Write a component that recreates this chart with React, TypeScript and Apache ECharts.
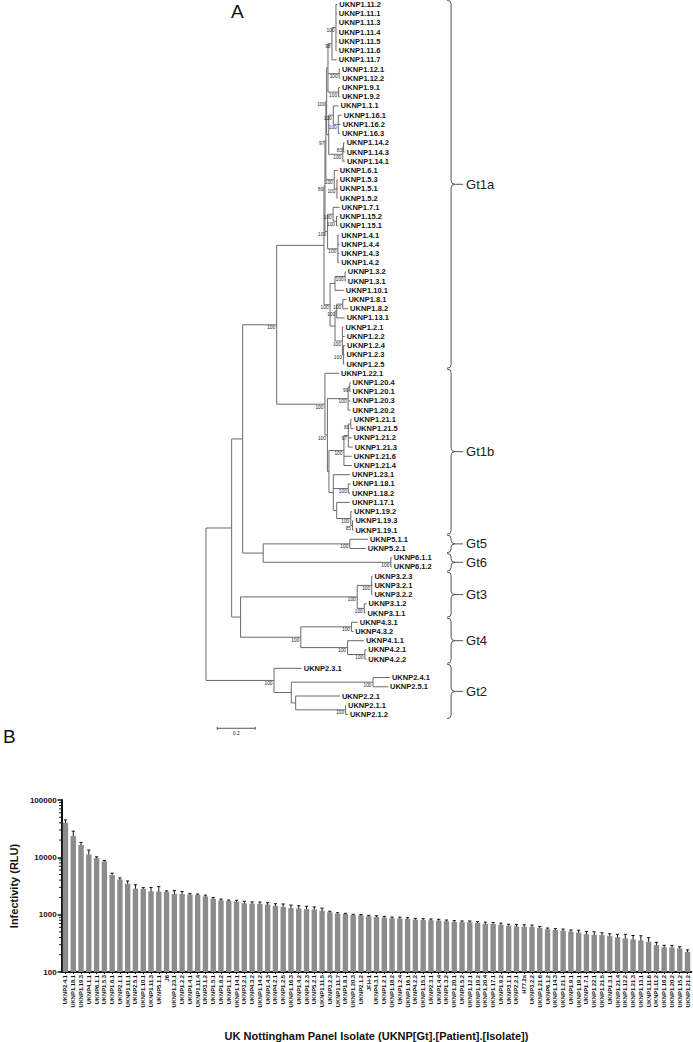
import React, { useEffect, useRef } from "react";
import * as echarts from "echarts";

const FONT = '"Liberation Sans", Arial, Helvetica, sans-serif';

// ---------------- Panel A: phylogenetic tree (Newick, branch lengths in substitutions/site) -------------
const G11a = "(UKNP1.11.2:0.007,UKNP1.11.1:0.004,UKNP1.11.3:0.004,UKNP1.11.4:0.004,UKNP1.11.5:0.004,UKNP1.11.6:0.004)100:0.021";
const G11 = `(${G11a},UKNP1.11.7:0.025)98:0.021`;
const G12 = "(UKNP1.12.1:0.004,UKNP1.12.2:0.005)100:0.059";
const G9 = "(UKNP1.9.1:0.007,UKNP1.9.2:0.007)100:0.056";
const U1a = `(${G11},${G12},${G9}):0.007`;
const G16 = "(UKNP1.16.1:0.019,UKNP1.16.2:0.013,UKNP1.16.3:0.009)100:0.026";
const G116 = `(UKNP1.1.1:0.028,${G16})100:0.024`;
const G14 = "((UKNP1.14.2:0.006,UKNP1.14.3:0.006)83:0.004,UKNP1.14.1:0.011)100:0.074";
const U1b = `(${G116},${G14}):0.011`;
const U1 = `(${U1a},${U1b})100:0.004`;
const U2 = "(UKNP1.6.1:0.019,(UKNP1.5.3:0.005,UKNP1.5.1:0.005,UKNP1.5.2:0.005)100:0.014)100:0.044";
const Upper = `(${U1},${U2})97:0.005`;
const Lower = "((UKNP1.7.1:0.034,(UKNP1.15.2:0.007,UKNP1.15.1:0.007)100:0.018)100:0.029,(UKNP1.4.1:0.007,UKNP1.4.4:0.007,UKNP1.4.3:0.007,UKNP1.4.2:0.007)100:0.054)100:0.014";
const Top = `(${Upper},${Lower})89:0.005`;
const B1 = "((UKNP1.3.2:0.004,UKNP1.3.1:0.004)100:0.053,UKNP1.10.1:0.046):0.026";
const B2 = "((UKNP1.8.1:0.019,UKNP1.8.2:0.028)100:0.032,UKNP1.13.1:0.042)100:0.009";
const G2x = "(UKNP1.2.1:0.006,UKNP1.2.2:0.012,(UKNP1.2.4:0.009,UKNP1.2.3:0.006,UKNP1.2.5:0.006)100:0.005)100:0.039";
const Bottom = `(${B1},(${B2},${G2x}):0.026)100:0.032`;
const Gt1aTree = `(${Top},${Bottom}):0.249`;

const G1_20 = "((UKNP1.20.4:0.004,UKNP1.20.1:0.004)99:0.009,UKNP1.20.3:0.013,UKNP1.20.2:0.013)100:0.109";
const G1_21 = "(((UKNP1.21.1:0.005,UKNP1.21.5:0.015)81:0.013,UKNP1.21.2:0.018,UKNP1.21.3:0.024)97:0.023,UKNP1.21.6:0.041,UKNP1.21.4:0.041)100:0.079";
const G1_rest = "(UKNP1.23.1:0.088,(UKNP1.18.1:0.012,UKNP1.18.2:0.009)100:0.079,(UKNP1.17.1:0.07,(UKNP1.19.2:0.007,(UKNP1.19.3:0.005,UKNP1.19.1:0.005)85:0.009)100:0.074):0.018):0.023";
const Gt1bTree = `(UKNP1.22.1:0.074,(${G1_20},(${G1_21},${G1_rest}):0.008)100:0.013)100:0.254`;

const Gt1Tree = `(${Gt1aTree},${Gt1bTree})100:0.179`;
const Gt56Tree = "((UKNP5.1.1:0.095,UKNP5.2.1:0.084)100:0.456,(UKNP6.1.1:0.005,UKNP6.1.2:0.005)100:0.672):0.108";
const A1Tree = `(${Gt1Tree},${Gt56Tree}):0.058`;
const Gt3Tree = "((UKNP3.2.3:0.004,UKNP3.2.1:0.004,UKNP3.2.2:0.004)100:0.076,(UKNP3.1.2:0.012,UKNP3.1.1:0.006)100:0.037)100:0.614";
const Gt4Tree = "((UKNP4.3.1:0.033,UKNP4.3.2:0.009)100:0.267,(UKNP4.1.1:0.086,(UKNP4.2.1:0.008,UKNP4.2.2:0.008)100:0.091)100:0.246)100:0.317";
const A2Tree = `(${Gt3Tree},${Gt4Tree}):0.047`;
const Gt2Tree = "(UKNP2.3.1:0.146,((UKNP2.4.1:0.089,UKNP2.5.1:0.079)100:0.43,(UKNP2.2.1:0.233,(UKNP2.1.1:0.002,UKNP2.1.2:0.012)100:0.263):0.023):0.091)100:0.358";
const treeNewick = `((${A1Tree},${A2Tree}):0.135,${Gt2Tree});`;

const cladeNames = ["Gt1a", "Gt1b", "Gt5", "Gt6", "Gt3", "Gt4", "Gt2"];
const cladeFirstLeaf = [0, 40, 58, 60, 62, 67, 72];
const cladeLastLeaf = [39, 57, 59, 61, 66, 71, 77];
const scaleBarLength = 0.2;

// ---------------- Panel B: infectivity bar chart -------------
const isolateNames = [
  "UKNP2.4.1", "UKNP1.18.1", "UKNP1.19.3", "UKNP4.1.1", "UKNP6.1.1", "UKNP1.5.3", "UKNP1.6.1", "UKNP2.1.1", "UKNP1.11.1",
  "UKNP2.5.1", "UKNP1.10.1", "UKNP1.11.3", "UKNP5.1.1", "J6", "UKNP1.23.1", "UKNP1.2.2", "UKNP1.4.1", "UKNP1.11.4",
  "UKNP3.1.2", "UKNP1.5.1", "UKNP1.8.2", "UKNP1.1.1", "UKNP1.14.1", "UKNP3.2.1", "UKNP4.3.2", "UKNP1.14.2", "UKNP1.4.3",
  "UKNP4.2.1", "UKNP1.2.5", "UKNP1.16.3", "UKNP1.4.2", "UKNP1.2.3", "UKNP5.2.1", "UKNP1.11.5", "UKNP3.2.3", "UKNP1.11.7",
  "UKNP1.8.1", "UKNP1.20.3", "UKNP2.1.2", "JFH-1", "UKNP4.3.1", "UKNP1.2.1", "UKNP1.18.2", "UKNP1.2.4", "UKNP1.16.1",
  "UKNP4.2.2", "UKNP1.15.1", "UKNP2.3.1", "UKNP1.4.4", "UKNP1.3.2", "UKNP1.20.1", "UKNP1.5.2", "UKNP1.12.1", "UKNP1.19.2",
  "UKNP1.20.4", "UKNP1.17.1", "UKNP1.9.2", "UKNP3.1.1", "UKNP2.2.1", "H77.2a", "UKNP3.2.2", "UKNP1.21.6", "UKNP6.1.2",
  "UKNP1.14.3", "UKNP1.21.1", "UKNP1.9.1", "UKNP1.19.1", "UKNP1.7.1", "UKNP1.22.1", "UKNP1.21.5", "UKNP1.3.1", "UKNP1.21.4",
  "UKNP1.12.2", "UKNP1.21.3", "UKNP1.13.1", "UKNP1.11.6", "UKNP1.11.2", "UKNP1.16.2", "UKNP1.20.2", "UKNP1.15.2", "UKNP1.21.2",
];
const infectivity = [
  40000, 23600, 16400, 11200, 9700, 8500, 4900, 4100, 3460,
  2850, 2820, 2560, 2530, 2500, 2300, 2290, 2240, 2200,
  2080, 1900, 1780, 1730, 1680, 1580, 1560, 1540, 1500,
  1420, 1370, 1300, 1280, 1250, 1230, 1170, 1100, 1040,
  1025, 985, 973, 935, 912, 889, 865, 855, 843,
  821, 810, 800, 789, 769, 748, 739, 735, 720,
  692, 684, 665, 640, 624, 615, 608, 585, 555,
  540, 526, 506, 486, 456, 444, 439, 422, 405,
  385, 370, 355, 337, 296, 270, 267, 256, 225,
];
const infectivityErr = [
  5000, 5000, 1800, 2200, 500, 340, 390, 280, 410,
  470, 140, 420, 560, 100, 350, 250, 90, 90,
  110, 100, 90, 70, 100, 130, 110, 120, 120,
  130, 165, 170, 150, 150, 135, 130, 45, 40,
  30, 30, 30, 37, 45, 45, 43, 50, 42,
  41, 40, 40, 40, 38, 37, 37, 40, 36,
  48, 48, 45, 40, 50, 50, 50, 35, 30,
  30, 35, 35, 49, 55, 58, 44, 42, 49,
  69, 63, 74, 61, 33, 22, 24, 20, 18,
];
const minorTickValues = [
  200, 300, 400, 500, 600, 700, 800, 900,
  2000, 3000, 4000, 5000, 6000, 7000, 8000, 9000,
  20000, 30000, 40000, 50000, 60000, 70000, 80000, 90000,
];

// ---------------- tree helpers -------------
type TNode = { name: string; len: number; support: string; children: TNode[]; x: number; y: number };

function parseNewick(s: string): TNode {
  let i = 0;
  const parseNode = (): TNode => {
    const node: TNode = { name: "", len: 0, support: "", children: [], x: 0, y: 0 };
    if (s[i] === "(") {
      i++;
      node.children.push(parseNode());
      while (s[i] === ",") {
        i++;
        node.children.push(parseNode());
      }
      i++;
    }
    let label = "";
    while (i < s.length && ":,);".indexOf(s[i]) < 0) label += s[i++];
    if (node.children.length) node.support = label;
    else node.name = label;
    if (s[i] === ":") {
      i++;
      let num = "";
      while (i < s.length && ",);".indexOf(s[i]) < 0) num += s[i++];
      node.len = parseFloat(num);
    }
    return node;
  };
  return parseNode();
}

function buildTree() {
  const root = parseNewick(treeNewick);
  let leafIdx = 0;
  const segments: number[][] = [];
  const leaves: { x: number; y: number; name: string }[] = [];
  const supports: { x: number; y: number; label: string }[] = [];
  const walk = (n: TNode, px: number, isRoot: boolean) => {
    n.x = isRoot ? 0 : px + n.len;
    if (!n.children.length) {
      n.y = leafIdx++;
      leaves.push({ x: n.x, y: n.y, name: n.name });
    } else {
      n.children.forEach((c) => walk(c, n.x, false));
      const f = n.children[0].y;
      const l = n.children[n.children.length - 1].y;
      n.y = (f + l) / 2;
      segments.push([n.x, f, n.x, l]);
      if (n.support) supports.push({ x: n.x, y: n.y, label: n.support });
    }
    if (!isRoot) segments.push([px, n.y, n.x, n.y]);
  };
  walk(root, 0, true);
  return { segments, leaves, supports };
}

const txt = (text: string, x: number, y: number, size: number, weight: string, align: string, vAlign: string, fill = "#111") => ({
  type: "text",
  x,
  y,
  style: {
    text,
    fill,
    fontSize: size,
    fontWeight: weight,
    fontFamily: FONT,
    align,
    verticalAlign: vAlign,
    textAlign: align,
    textVerticalAlign: vAlign,
  },
});

export default function App() {
  const ref = useRef<HTMLDivElement>(null);

  useEffect(() => {
    if (!ref.current) return;
    const chart = echarts.init(ref.current, undefined, { renderer: "svg" });
    const { segments, leaves, supports } = buildTree();
    const TREE_GRID = 0;
    const BAR_GRID = 1;
    const BRACE_X = 1.29;

    const option: any = {
      animation: false,
      textStyle: { fontFamily: FONT },
      grid: [
        { left: 206, top: 4.5, width: 285, height: 709.94 },
        { left: 59.4, top: 800, width: 632, height: 176 },
      ],
      xAxis: [
        { gridIndex: TREE_GRID, type: "value", min: 0, max: 1.5, show: false },
        {
          gridIndex: BAR_GRID,
          type: "category",
          data: isolateNames,
          boundaryGap: true,
          axisLine: { onZero: false, lineStyle: { color: "#111", width: 2 } },
          axisTick: { show: true, length: 2, alignWithLabel: true, lineStyle: { color: "#111", width: 1 } },
          axisLabel: { interval: 0, rotate: 90, fontSize: 5.8, fontWeight: "bold", color: "#111", margin: 3, fontFamily: FONT },
          name: "UK Nottingham Panel Isolate (UKNP[Gt].[Patient].[Isolate])",
          nameLocation: "middle",
          nameGap: 58,
          nameTextStyle: { fontSize: 11, fontWeight: "bold", color: "#111", fontFamily: FONT },
        },
      ],
      yAxis: [
        { gridIndex: TREE_GRID, type: "value", min: 0, max: 77, inverse: true, show: false },
        {
          gridIndex: BAR_GRID,
          type: "log",
          logBase: 10,
          min: 100,
          max: 100000,
          splitLine: { show: false },
          axisLine: { show: true, lineStyle: { color: "#111", width: 2 } },
          axisTick: { show: true, length: 4, lineStyle: { color: "#111", width: 1.5 } },
          axisLabel: {
            fontSize: 8,
            fontWeight: "bold",
            color: "#111",
            margin: 5,
            fontFamily: FONT,
            formatter: (v: number) => String(Math.round(v)),
          },
          name: "Infectivity (RLU)",
          nameLocation: "middle",
          nameRotate: 90,
          nameGap: 31,
          nameTextStyle: { fontSize: 11, fontWeight: "bold", color: "#111", fontFamily: FONT },
        },
      ],
      graphic: [
        { type: "text", left: 231, top: 2, style: { text: "A", fontSize: 19, fill: "#111", fontFamily: FONT } },
        { type: "text", left: 3, top: 727, style: { text: "B", fontSize: 19, fill: "#111", fontFamily: FONT } },
      ],
      series: [
        {
          type: "custom",
          xAxisIndex: 0,
          yAxisIndex: 0,
          silent: true,
          data: segments,
          renderItem: (_p: any, api: any) => {
            const a = api.coord([api.value(0), api.value(1)]);
            const b = api.coord([api.value(2), api.value(3)]);
            return {
              type: "line",
              shape: { x1: a[0], y1: a[1], x2: b[0], y2: b[1] },
              style: { stroke: "#6a6a6a", lineWidth: 1 },
            };
          },
        },
        {
          type: "custom",
          xAxisIndex: 0,
          yAxisIndex: 0,
          silent: true,
          data: leaves.map((l) => [l.x, l.y]),
          renderItem: (p: any, api: any) => {
            const a = api.coord([api.value(0), api.value(1)]);
            return txt(leaves[p.dataIndex].name, a[0] + 2, a[1], 7.5, "bold", "left", "middle", "#151515");
          },
        },
        {
          type: "custom",
          xAxisIndex: 0,
          yAxisIndex: 0,
          silent: true,
          data: supports.map((s) => [s.x, s.y]),
          renderItem: (p: any, api: any) => {
            const a = api.coord([api.value(0), api.value(1)]);
            return txt(supports[p.dataIndex].label, a[0] - 1.5, a[1] + 3, 4.8, "normal", "right", "middle", "#222");
          },
        },
        {
          type: "custom",
          xAxisIndex: 0,
          yAxisIndex: 0,
          silent: true,
          data: cladeNames.map((_, i) => [cladeFirstLeaf[i], cladeLastLeaf[i]]),
          renderItem: (p: any, api: any) => {
            const top = api.coord([BRACE_X, api.value(0) - 0.45]);
            const bot = api.coord([BRACE_X, api.value(1) + 0.45]);
            const x = top[0];
            const t = top[1];
            const b = bot[1];
            const m = (t + b) / 2;
            const c = Math.min(3.5, (b - t) / 4);
            const d =
              `M${x - 4} ${t} Q${x} ${t} ${x} ${t + c} L${x} ${m - c} Q${x} ${m} ${x + 4} ${m} ` +
              `Q${x} ${m} ${x} ${m + c} L${x} ${b - c} Q${x} ${b} ${x - 4} ${b} M${x + 4} ${m} L${x + 12} ${m}`;
            return {
              type: "group",
              children: [
                { type: "path", shape: { pathData: d }, style: { fill: "none", stroke: "#555", lineWidth: 1 } },
                txt(cladeNames[p.dataIndex], x + 15, m, 13, "normal", "left", "middle", "#222"),
              ],
            };
          },
        },
        {
          type: "custom",
          xAxisIndex: 0,
          yAxisIndex: 0,
          silent: true,
          data: [[0.059, 78.5, scaleBarLength]],
          renderItem: (_p: any, api: any) => {
            const a = api.coord([api.value(0), api.value(1)]);
            const b = api.coord([api.value(0) + api.value(2), api.value(1)]);
            const st = { stroke: "#555", lineWidth: 1 };
            return {
              type: "group",
              children: [
                { type: "line", shape: { x1: a[0], y1: a[1], x2: b[0], y2: b[1] }, style: st },
                { type: "line", shape: { x1: a[0], y1: a[1] - 1.5, x2: a[0], y2: a[1] + 1.5 }, style: st },
                { type: "line", shape: { x1: b[0], y1: b[1] - 1.5, x2: b[0], y2: b[1] + 1.5 }, style: st },
                txt(String(api.value(2)), (a[0] + b[0]) / 2, a[1] + 5, 4.8, "normal", "center", "middle", "#222"),
              ],
            };
          },
        },
        {
          type: "bar",
          xAxisIndex: 1,
          yAxisIndex: 1,
          data: infectivity,
          barWidth: 5.4,
          clip: true,
          itemStyle: { color: "#8c8c8c" },
        },
        {
          type: "custom",
          xAxisIndex: 1,
          yAxisIndex: 1,
          silent: true,
          data: infectivity.map((v, i) => [i, v - infectivityErr[i], v + infectivityErr[i]]),
          renderItem: (_p: any, api: any) => {
            const lo = api.coord([api.value(0), api.value(1)]);
            const hi = api.coord([api.value(0), api.value(2)]);
            const x = lo[0];
            const st = { stroke: "#111", lineWidth: 1 };
            return {
              type: "group",
              children: [
                { type: "line", shape: { x1: x, y1: lo[1], x2: x, y2: hi[1] }, style: st },
                { type: "line", shape: { x1: x - 1.6, y1: lo[1], x2: x + 1.6, y2: lo[1] }, style: st },
                { type: "line", shape: { x1: x - 1.6, y1: hi[1], x2: x + 1.6, y2: hi[1] }, style: st },
              ],
            };
          },
        },
        {
          type: "custom",
          xAxisIndex: 1,
          yAxisIndex: 1,
          silent: true,
          data: minorTickValues.map((v) => [0, v]),
          renderItem: (p: any, api: any) => {
            const a = api.coord([0, api.value(1)]);
            const x0 = p.coordSys.x;
            return {
              type: "line",
              shape: { x1: x0 - 2.5, y1: a[1], x2: x0, y2: a[1] },
              style: { stroke: "#111", lineWidth: 1 },
            };
          },
        },
      ],
    };
    chart.setOption(option);
    return () => chart.dispose();
  }, []);

  return <div ref={ref} style={{ position: "absolute", left: 0, top: 0, width: 693, height: 1042 }} />;
}
